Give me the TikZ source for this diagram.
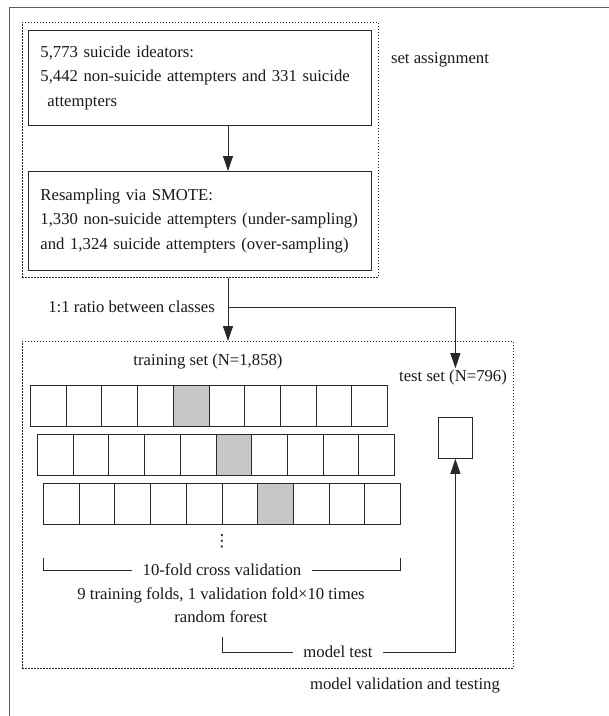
\documentclass[tikz,border=0pt]{standalone}
\usepackage{fontspec}
\setmainfont{Liberation Serif}
\newfontfamily\symfont{DejaVu Sans}
\usetikzlibrary{arrows.meta,calc}
\definecolor{cellgray}{RGB}{199,199,201}
\definecolor{linecol}{RGB}{40,40,40}
\definecolor{framecol}{RGB}{90,90,90}
\begin{document}
\begin{tikzpicture}[x=1pt,y=-1pt,
  every node/.style={font=\fontsize{16.7}{24.5}\selectfont, text=black!90},
  box/.style={draw=linecol, line width=0.9pt, anchor=north west, inner xsep=12pt,
    align=left, text width=319pt, minimum width=343pt, minimum height=95pt},
  grp/.style={draw=linecol, line width=0.8pt, dash pattern=on 1.5pt off 1.5pt,
    anchor=north west, inner sep=0pt},
  cell/.style={draw=linecol, line width=0.8pt, anchor=north west, inner sep=0pt,
    minimum width=35.7pt, minimum height=41pt},
  lbl/.style={inner sep=1pt},
  conn/.style={draw=linecol, line width=0.8pt},
  arr/.style={conn, -{Triangle[length=15pt,width=10pt]}}
]
\useasboundingbox (0,0) rectangle (609,716);
% outer frame
\draw[framecol, line width=0.9pt] (9,716) -- (9,7) -- (609,7);

% top group
\node[grp, minimum width=356pt, minimum height=255pt] (g1) at (22,22) {};
\node[box] (b1) at (28,30) {5,773 suicide ideators:\\5,442 non-suicide attempters and 331 suicide\\\hspace*{7pt}attempters};
\node[box, minimum height=99pt] (b2) at (28,171) {Resampling via SMOTE:\\1,330 non-suicide attempters (under-sampling)\\and 1,324 suicide attempters (over-sampling)};
\node[lbl] (sa) at (440,60) {set assignment};
\coordinate (ax) at (228,0);
\draw[arr] (b1.south -| ax) -- (b2.north -| ax);

% bottom group
\node[grp, minimum width=491pt, minimum height=327pt] (g2) at (22,341) {};
\node[lbl, anchor=east] (ratio) at (216,307) {1:1 ratio between classes};
\coordinate (split) at (228,307);
\draw[arr] (g1.south -| ax) -- (g2.north -| ax);

\node[lbl] (trs) at (208,362) {training set (N=1,858)};
\node[lbl] (tl) at (453,377) {test set (N=796)};
\node[cell, minimum width=34pt] (tb) at (438,417) {};
\draw[arr] (split) -| (tb.north |- tl.north);

% fold rows
\foreach \i in {0,...,9} {
  \ifnum\i=4 \def\fc{cellgray}\else\def\fc{white}\fi
  \node[cell, fill=\fc] (ra\i) at ({30+\i*35.7},385) {};
}
\foreach \i in {0,...,9} {
  \ifnum\i=5 \def\fc{cellgray}\else\def\fc{white}\fi
  \node[cell, fill=\fc] (rb\i) at ({37+\i*35.7},434) {};
}
\foreach \i in {0,...,9} {
  \ifnum\i=6 \def\fc{cellgray}\else\def\fc{white}\fi
  \node[cell, fill=\fc] (rc\i) at ({43+\i*35.7},483) {};
}
\node[lbl] (dots) at (222,541) {\symfont ⋮};

\node[inner xsep=10pt, inner ysep=1pt] (cv) at (222,570) {10-fold cross validation};
\draw[conn] (rc0.south west) ++(0,33) coordinate (bl) -- (bl |- cv.west) -- (cv.west);
\draw[conn] (rc9.south east) ++(0,33) coordinate (br) -- (br |- cv.east) -- (cv.east);
\node[lbl] (tf) at (221,595) {9 training folds, 1 validation fold×10 times};
\node[lbl] (rf) at (221,617) {random forest};

\node[inner xsep=10pt, inner ysep=1pt] (mt) at (338,652) {model test};
\coordinate (mts) at (222,637);
\draw[conn] (mts) |- (mt.west);
\draw[arr] (mt.east) -| (tb.south);

\node[lbl] (mv) at (405,685) {model validation and testing};
\end{tikzpicture}
\end{document}
